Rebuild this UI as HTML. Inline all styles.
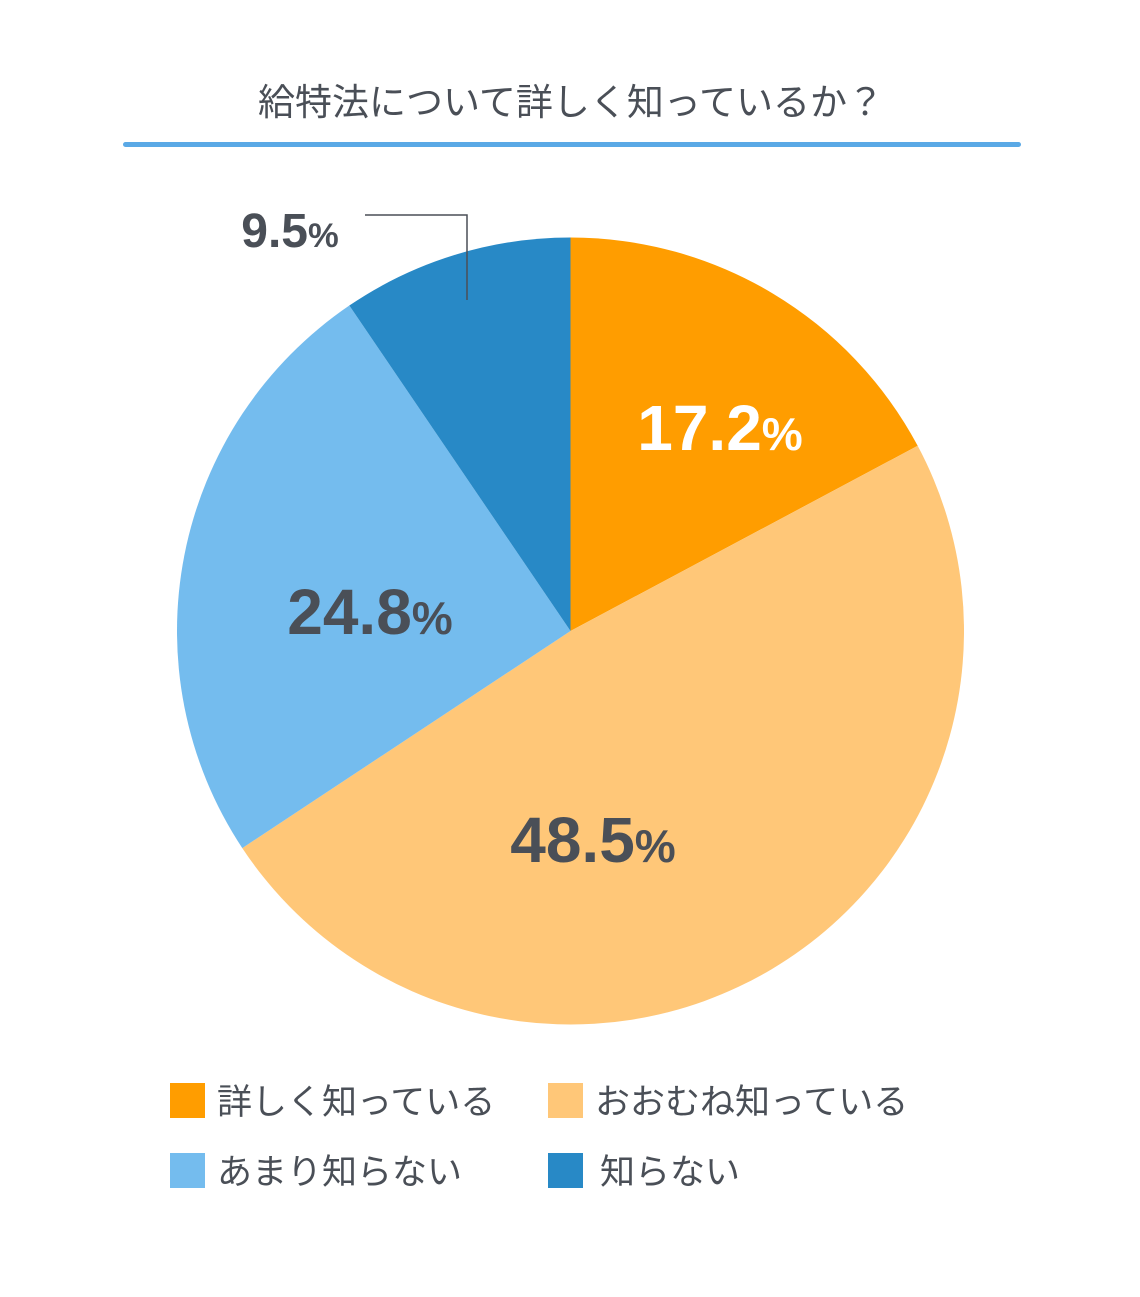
<!DOCTYPE html>
<html><head><meta charset="utf-8"><style>
body{margin:0;background:#fff;}
svg text{font-family:"Liberation Sans","Noto Sans CJK JP",sans-serif;}
</style></head><body>
<svg width="1140" height="1292" viewBox="0 0 1140 1292">
<text x="571" y="115" text-anchor="middle" font-size="37" fill="#4a4f57">給特法について詳しく知っているか？</text>
<rect x="123" y="142" width="898" height="5" rx="2.5" fill="#5aa9e6"/>
<g id="slices"></g>
<g id="labels"></g>
<polyline points="365,215 467,215 467,300" fill="none" stroke="#4a4f57" stroke-width="1.5"/>
<g id="legend"></g>
</svg>
<script>
const categories=["詳しく知っている","おおむね知っている","あまり知らない","知らない"];
const values=[17.2,48.5,24.8,9.5];
const colors=["#FF9D00","#FFC778","#74BCEE","#2889C6"];
const NS="http://www.w3.org/2000/svg";
const cx=570.5,cy=631,r=393.5;
const total=values.reduce((a,b)=>a+b,0);
function pt(frac,rad){const a=frac*2*Math.PI-Math.PI/2;return [cx+rad*Math.cos(a),cy+rad*Math.sin(a)];}
const sg=document.getElementById('slices');
let acc=0;
const labelPos=[[720,450,"#fff",64],[593,862,"#4a4f57",64],[370,634,"#4a4f57",64],[290,247,"#4a4f57",48]];
const lg=document.getElementById('labels');
values.forEach((v,i)=>{
  const s=acc/total,e=(acc+v)/total;acc+=v;
  const p0=pt(s,r),p1=pt(e,r);
  const path=document.createElementNS(NS,'path');
  path.setAttribute('d',`M${cx},${cy}L${p0[0]},${p0[1]}A${r},${r} 0 ${e-s>0.5?1:0} 1 ${p1[0]},${p1[1]}Z`);
  path.setAttribute('fill',colors[i]);
  
  
  sg.appendChild(path);
  const L=labelPos[i];
  const t=document.createElementNS(NS,'text');
  t.setAttribute('x',L[0]);t.setAttribute('y',L[1]);t.setAttribute('text-anchor','middle');
  t.setAttribute('fill',L[2]);t.setAttribute('font-size',L[3]);t.setAttribute('font-weight','bold');
  
  
  t.innerHTML=v.toFixed(1)+'<tspan font-size="'+(L[3]*0.72)+'">%</tspan>';
  lg.appendChild(t);
});
const leg=document.getElementById('legend');
const lpos=[[170,1083],[548,1083],[170,1153],[548,1153]];
categories.forEach((c,i)=>{
  const g=document.createElementNS(NS,'g');
  
  
  const rc=document.createElementNS(NS,'rect');
  rc.setAttribute('x',lpos[i][0]);rc.setAttribute('y',lpos[i][1]);rc.setAttribute('width',35);rc.setAttribute('height',35);rc.setAttribute('fill',colors[i]);
  const t=document.createElementNS(NS,'text');
  t.setAttribute('x',lpos[i][0]+(i==3?52:47));t.setAttribute('y',lpos[i][1]+31);t.setAttribute('font-size',35);t.setAttribute('fill','#4a4f57');
  t.textContent=c;
  g.appendChild(rc);g.appendChild(t);leg.appendChild(g);
});
</script>
</body></html>
